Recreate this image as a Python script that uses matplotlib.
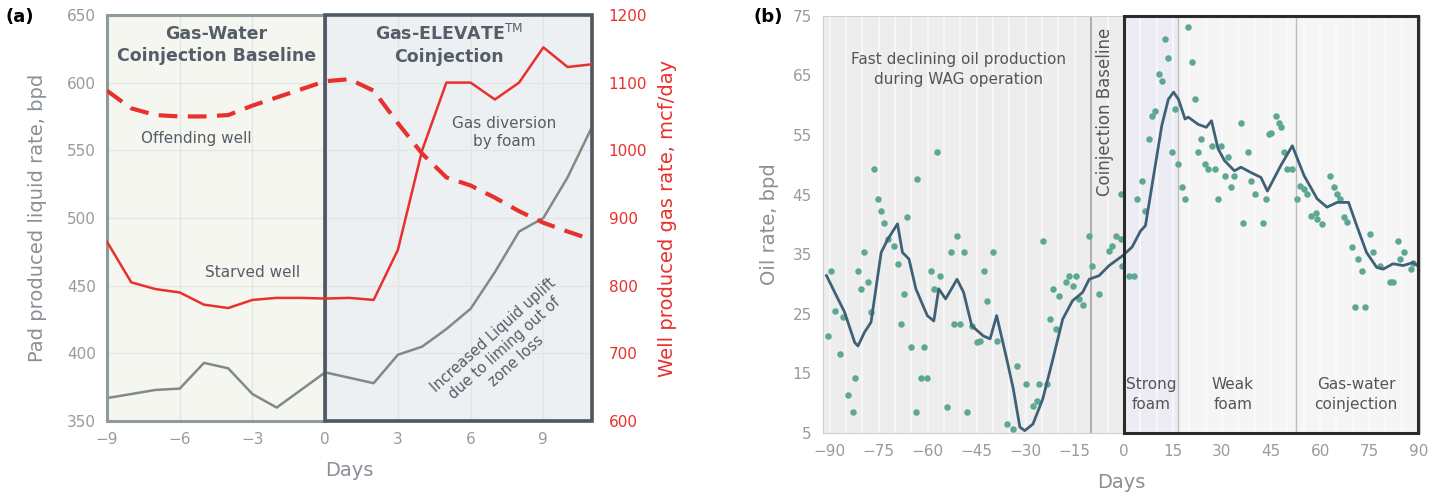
import numpy as np
import matplotlib.pyplot as plt
from matplotlib.patches import Rectangle

# ---------------- panel (a) data ----------------
days_a = list(range(-9, 12))
pad_liquid = [367, 370, 373, 374, 393, 389, 370, 360, 373, 386, 382,
              378, 399, 405, 418, 433, 460, 490, 500, 530, 567]
starved_gas = [865, 805, 795, 790, 772, 767, 779, 782, 782, 781, 782,
               779, 853, 1000, 1100, 1100, 1075, 1100, 1152, 1123, 1127]
offending_gas = [1088, 1062, 1052, 1050, 1050, 1052, 1066, 1078, 1090, 1102, 1105,
                 1088, 1040, 995, 960, 948, 930, 910, 893, 880, 868]
xticks_a = [-9, -6, -3, 0, 3, 6, 9]

# ---------------- panel (b) data ----------------
oil_days = [-90.4, -89.4, -88.4, -86.9, -85.8, -84.3, -82.8, -82.3, -81.3, -80.3,
            -79.3, -78.3, -77.3, -76.3, -75.3, -74.2, -73.2, -72.2, -70.2, -69.2,
            -68.2, -67.2, -66.2, -65.2, -63.6, -63.1, -62.1, -61.1, -60.1, -59.1,
            -58.1, -57.1, -56.1, -54.0, -53.0, -52.0, -51.0, -50.0, -49.0, -48.0,
            -46.5, -45.0, -44.0, -42.9, -41.9, -39.9, -38.8, -35.8, -33.9, -32.8,
            -29.8, -27.9, -26.7, -25.8, -24.8, -23.6, -22.7, -21.7, -20.7, -19.7,
            -17.7, -16.7, -15.7, -14.6, -13.6, -12.6, -10.6, -9.6, -7.6, -4.5,
            -3.5, -2.5, -1.0, -1.0,
            -0.5, 1.5, 3.0, 4.0, 5.6, 6.6, 7.6, 8.6, 9.6, 10.6,
            11.6, 12.6, 13.6, 14.6, 15.7, 16.7, 17.7, 18.7, 19.7, 20.7,
            21.7, 22.7, 23.7, 24.7, 25.8, 26.8, 27.8, 28.8, 29.8, 30.8,
            31.8, 32.8, 33.8, 35.8, 36.4, 37.9, 38.9, 40.0, 42.4, 43.4,
            44.4, 45.0, 46.5, 47.5, 48.0, 49.0, 50.0, 51.5, 53.0, 54.0,
            55.1, 56.1, 57.1, 58.6, 59.1, 60.6, 63.1, 64.2, 65.2, 66.2,
            67.2, 68.2, 69.7, 70.7, 71.7, 72.7, 73.7, 75.2, 76.3, 78.3,
            81.3, 82.3, 83.8, 84.3, 85.8, 87.9, 88.4]
oil_rate = [21.3, 32.2, 25.5, 18.3, 24.5, 11.3, 8.5, 14.3, 32.2, 29.2,
            35.3, 30.3, 25.3, 49.3, 44.3, 42.3, 40.3, 37.5, 36.4, 33.4,
            23.3, 28.3, 41.2, 19.4, 8.5, 47.6, 14.3, 19.4, 14.3, 32.2,
            29.2, 52.1, 31.4, 9.3, 35.3, 23.3, 38.1, 23.3, 35.3, 8.5,
            23.0, 20.2, 20.4, 32.2, 27.2, 35.3, 20.4, 6.5, 5.7, 16.3,
            13.2, 9.6, 10.4, 13.2, 37.3, 13.2, 24.1, 29.2, 22.4, 28.0,
            30.3, 31.4, 29.7, 31.4, 27.5, 26.4, 38.1, 33.1, 28.3, 35.6,
            36.4, 38.1, 45.1, 37.5,
            33.0, 31.4, 31.4, 44.3, 47.3, 42.3, 54.3, 58.2, 59.1, 65.2,
            64.1, 71.1, 68.0, 52.1, 59.4, 50.1, 46.2, 44.3, 73.1, 67.2,
            61.0, 52.1, 54.3, 50.1, 49.3, 53.2, 49.3, 44.3, 53.2, 48.2,
            51.3, 46.2, 48.2, 57.1, 40.3, 52.1, 47.3, 45.1, 40.3, 44.3,
            55.2, 55.4, 58.2, 57.1, 56.3, 52.1, 49.3, 49.3, 44.3, 46.5,
            45.9, 45.1, 41.5, 42.0, 40.9, 40.1, 48.2, 46.2, 45.1, 44.3,
            41.2, 40.4, 36.2, 26.1, 34.2, 32.2, 26.1, 38.4, 35.3, 33.1,
            30.3, 30.3, 37.3, 34.2, 35.3, 32.5, 33.6]

avg_days = [-90.9, -88.4, -85.4, -82.3, -81.3, -79.3, -77.3, -74.2, -72.2, -69.2,
            -67.7, -65.7, -63.6, -60.1, -58.1, -56.6, -54.5, -51.0, -49.0, -46.5,
            -43.0, -40.9, -38.9, -35.8, -33.8, -31.8, -30.3, -27.8, -24.8, -21.7,
            -18.7, -15.7, -12.6, -10.6, -7.6, -4.5, -0.5, 2.5, 5.1, 6.6,
            8.6, 11.6, 13.6, 15.2, 16.7, 18.7, 19.7, 22.7, 25.2, 26.8,
            28.8, 30.8, 33.8, 35.8, 38.9, 41.9, 43.9, 48.0, 51.5, 55.1,
            59.1, 62.1, 65.2, 68.7, 71.2, 74.2, 77.3, 79.3, 82.3, 85.4,
            88.4, 90.0]
avg_rate = [31.4, 28.6, 25.3, 20.2, 19.6, 21.9, 23.6, 35.3, 37.5, 40.1,
            35.3, 34.2, 29.2, 24.7, 23.8, 29.2, 27.5, 30.8, 28.6, 23.0,
            21.3, 20.8, 24.7, 17.4, 12.4, 6.0, 5.4, 6.5, 10.7, 17.4,
            24.1, 27.2, 28.6, 30.8, 31.4, 33.1, 34.7, 36.2, 38.9, 39.8,
            46.5, 56.6, 61.0, 62.2, 61.0, 57.7, 58.0, 56.8, 56.3, 57.4,
            52.7, 50.7, 49.0, 49.6, 48.7, 47.9, 45.6, 49.9, 53.2, 48.2,
            44.3, 42.9, 43.7, 43.7, 39.8, 35.3, 32.8, 32.5, 33.4, 33.1,
            33.6, 33.0]
xticks_b = [-90, -75, -60, -45, -30, -15, 0, 15, 30, 45, 60, 75, 90]
yticks_b = [5, 15, 25, 35, 45, 55, 65, 75]

RED = '#e8302c'
GREY_TXT = '#8a9096'
DARK_TXT = '#555e68'

fig = plt.figure(figsize=(14.4, 4.96), dpi=100)

# ================= panel (a) =================
ax = fig.add_axes([0.0743, 0.151, 0.3367, 0.819])
ax.set_xlim(-9, 11)
ax.set_ylim(350, 650)
ax.axvspan(-9, 0, color='#f6f6f1', zorder=0)
ax.axvspan(0, 11, color='#edf0f2', zorder=0)
ax.set_xticks(xticks_a)
ax.set_yticks(range(350, 651, 50))
ax.grid(True, color='#e3e5e3', lw=1, zorder=1)
for s in ax.spines.values():
    s.set_visible(False)
ax.add_patch(Rectangle((-9, 350), 9, 300, fill=False, ec='#8d9c96', lw=2.2, zorder=4, clip_on=False))
ax.add_patch(Rectangle((0, 350), 11, 300, fill=False, ec='#4d5863', lw=2.6, zorder=4, clip_on=False))
ax.tick_params(length=0, labelsize=11, colors='#9a9a9a', pad=8)
ax.plot(days_a, pad_liquid, color='#7e8b86', lw=1.8, zorder=3)
ax.set_ylabel('Pad produced liquid rate, bpd', fontsize=14, color=GREY_TXT, labelpad=14)
ax.set_xlabel('Days', fontsize=14, color=GREY_TXT, labelpad=10)

ax2 = ax.twinx()
ax2.set_ylim(600, 1200)
ax2.set_yticks(range(600, 1201, 100))
for s in ax2.spines.values():
    s.set_visible(False)
ax2.tick_params(length=0, labelsize=11, colors=RED, pad=12)
ax2.plot(days_a, starved_gas, color=RED, lw=1.8, zorder=3)
ax2.plot(days_a, offending_gas, color=RED, lw=3, dashes=(4.5, 2.5), zorder=3)
ax2.set_ylabel('Well produced gas rate, mcf/day', fontsize=14, color=RED, labelpad=8)

ax.text(-4.5, 628, 'Gas-Water\nCoinjection Baseline', ha='center', va='center',
        fontsize=12.5, fontweight='bold', color=DARK_TXT, linespacing=1.3, zorder=5)
ax.text(5.1, 628, 'Gas-ELEVATE$^{\\mathrm{TM}}$\nCoinjection', ha='center', va='center',
        fontsize=12.5, fontweight='bold', color=DARK_TXT, linespacing=1.3, zorder=5)
ax.text(-5.3, 559, 'Offending well', ha='center', va='center', fontsize=11, color=DARK_TXT)
ax.text(-3.0, 460, 'Starved well', ha='center', va='center', fontsize=11, color=DARK_TXT)
ax.text(7.4, 563, 'Gas diversion\nby foam', ha='center', va='center', fontsize=11,
        color=DARK_TXT, linespacing=1.2)
ax.text(7.4, 404, 'Increased Liquid uplift\ndue to liming out of\nzone loss', ha='center',
        va='center', fontsize=10.5, color=DARK_TXT, rotation=42, linespacing=1.15)

fig.text(0.004, 0.955, '(a)', fontsize=13, fontweight='bold')

# ================= panel (b) =================
bx = fig.add_axes([0.5715, 0.127, 0.4145, 0.841])
bx.set_xlim(-92, 90.5)
bx.set_ylim(5, 75)
bx.axvspan(-92, 0, color='#ededed', zorder=0)
bx.axvspan(0, 16.7, color='#ececf4', zorder=0)
bx.axvspan(16.7, 90.5, color='#f5f5f5', zorder=0)
for xv in np.arange(-90, 91, 5):
    bx.axvline(xv, color='#fafafa', lw=1.2, zorder=1)
bx.axvline(-10, color='#a8a8a8', lw=1.3, zorder=2)
bx.axvline(16.7, color='#bdbdbd', lw=1, zorder=2)
bx.axvline(52.7, color='#bdbdbd', lw=1, zorder=2)
bx.add_patch(Rectangle((0, 5), 90, 70, fill=False, ec='#2b2b2b', lw=2.2, zorder=5, clip_on=False))
for s in bx.spines.values():
    s.set_color('#d0d0d0')
bx.set_xticks(xticks_b)
bx.set_yticks(yticks_b)
bx.tick_params(length=0, labelsize=11, colors='#9a9a9a', pad=8)
bx.scatter(oil_days, oil_rate, s=22, color='#5ea892', zorder=3, linewidths=0)
bx.plot(avg_days, avg_rate, color='#3f6177', lw=2, zorder=4)
bx.set_ylabel('Oil rate, bpd', fontsize=14, color=GREY_TXT, labelpad=10)
bx.set_xlabel('Days', fontsize=14, color=GREY_TXT, labelpad=10)

bx.text(-50.6, 66, 'Fast declining oil production\nduring WAG operation', ha='center',
        va='center', fontsize=11, color='#555555', linespacing=1.4)
bx.text(-5.8, 73, 'Coinjection Baseline', ha='center', va='top', rotation=90,
        fontsize=12, color='#555555')
bx.text(8.3, 11.5, 'Strong\nfoam', ha='center', va='center', fontsize=11, color='#555555',
        linespacing=1.4)
bx.text(33.3, 11.5, 'Weak\nfoam', ha='center', va='center', fontsize=11, color='#555555',
        linespacing=1.4)
bx.text(71.0, 11.5, 'Gas-water\ncoinjection', ha='center', va='center', fontsize=11,
        color='#555555', linespacing=1.4)

fig.text(0.523, 0.955, '(b)', fontsize=13, fontweight='bold')

fig.savefig('out.png', dpi=100, facecolor='white')
